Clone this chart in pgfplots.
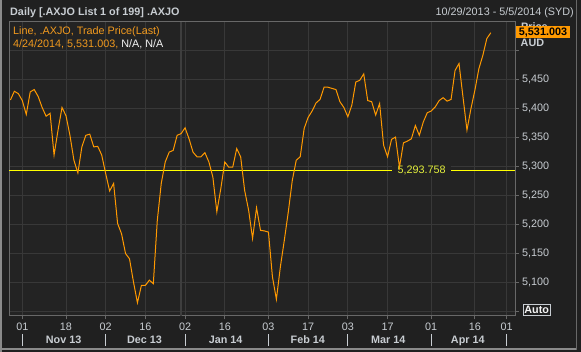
\documentclass[border=0pt]{standalone}
\usepackage{pgfplots}
\pgfplotsset{compat=1.18}
\usepackage{fontspec}
\setmainfont{Liberation Sans}
\definecolor{outerbg}{HTML}{202020}
\definecolor{plotbg}{HTML}{232323}
\definecolor{gridc}{HTML}{383838}
\definecolor{yearc}{HTML}{3E3E3E}
\definecolor{axisc}{HTML}{686868}
\definecolor{txt}{HTML}{C8CDD2}
\definecolor{orangeline}{HTML}{FF9900}
\definecolor{orangetxt}{HTML}{F29A1E}
\definecolor{yline}{HTML}{FFFF00}
\definecolor{ytxt}{HTML}{E4F03C}
\definecolor{framec}{HTML}{8A8A8A}
\newcommand{\fs}{\fontsize{10.8}{13}\selectfont}
\tikzset{
  msep/.style={txt, line width=0.9pt},
  mon/.style={anchor=base, font=\fs\bfseries, text=txt, inner sep=0},
}
\begin{document}
\begin{tikzpicture}[x=1pt,y=1pt]
\useasboundingbox (0,0) rectangle (581,352);
\fill[outerbg] (0,0) rectangle (581,352);
% outer frame
\fill[framec] (0,0) rectangle (2,352);
\fill[framec] (0,2) rectangle (577,3.6);
\fill[axisc] (576.2,2) rectangle (577.2,352);
% titles
\node[anchor=base west, font=\fs\bfseries, text=txt, inner sep=0] at (10,336.3) {Daily [.AXJO List 1 of 199] .AXJO};
\node[anchor=base east, font=\fs, text=txt, inner sep=0] at (574,336.3) {10/29/2013 - 5/5/2014 (SYD)};
\begin{axis}[
  at={(9pt,36pt)}, anchor=south west,
  scale only axis, width=506pt, height=294pt,
  xmin=-0.35, xmax=127.1, ymin=5042.2, ymax=5549.6,
  clip=false,
  axis background/.style={fill=plotbg},
  axis line style={draw=axisc, line width=1pt},
  grid=major, major grid style={draw=gridc, line width=0.9pt},
  xtick={3,14,24,34,44,54,65,75,85,95,106,117,125},
  xticklabels={01,18,02,16,02,16,03,17,03,17,01,16,01},
  ytick={5050,5100,5150,5200,5250,5300,5350,5400,5450,5500},
  yticklabels={{},{5,100},{5,150},{5,200},{5,250},{5,300},{5,350},{5,400},{5,450},{}},
  xtick pos=left, ytick pos=right, yticklabel pos=right,
  tick align=outside, major tick length=3.5pt,
  tick style={draw=axisc, line width=0.9pt},
  tick label style={font=\fs, text=txt},
  yticklabel style={anchor=west},
]
% year separator
\draw[yearc, line width=2pt] (axis cs:42.85,5042.2) -- (axis cs:42.85,5549.6);
% horizontal reference line
\addplot[yline, line width=1.3pt] coordinates {(-0.35,5293.758) (127.1,5293.758)};
\node[fill=plotbg, text=ytxt, font=\fs, inner xsep=5.5pt, inner ysep=1.5pt] at (axis cs:103.6,5293.758) {5,293.758};
% price series
\addplot[orangeline, line width=1pt] coordinates {
(0,5415) (1,5430) (2,5426) (3,5414) (4,5390) (5,5429) (6,5433) (7,5421) (8,5402) (9,5387)
(10,5392) (11,5320) (12,5363) (13,5402) (14,5388) (15,5354) (16,5311) (17,5289) (18,5334) (19,5354)
(20,5356) (21,5334) (22,5335) (23,5320) (24,5288) (25,5258) (26,5271) (27,5202) (28,5184) (29,5150)
(30,5141) (31,5101) (32,5065) (33,5095) (34,5095) (35,5104) (36,5098) (37,5207) (38,5271) (39,5308)
(40,5325) (41,5328) (42,5354) (43,5357) (44,5367) (45,5348) (46,5325) (47,5317) (48,5317) (49,5324)
(50,5308) (51,5282) (52,5222) (53,5262) (54,5308) (55,5299) (56,5299) (57,5331) (58,5317) (59,5259)
(60,5225) (61,5176) (62,5229) (63,5190) (64,5189) (65,5187) (66,5110) (67,5071) (68,5127) (69,5173)
(70,5222) (71,5276) (72,5311) (73,5317) (74,5366) (75,5385) (76,5396) (77,5410) (78,5416) (79,5437)
(80,5437) (81,5435) (82,5433) (83,5412) (84,5402) (85,5386) (86,5406) (87,5446) (88,5449) (89,5460)
(90,5414) (91,5412) (92,5389) (93,5409) (94,5337) (95,5317) (96,5347) (97,5351) (98,5299) (99,5341)
(100,5344) (101,5348) (102,5371) (103,5354) (104,5377) (105,5393) (106,5396) (107,5403) (108,5414) (109,5419)
(110,5413) (111,5416) (112,5466) (113,5478) (114,5420) (115,5363) (116,5400) (117,5432) (118,5469) (119,5492)
(120,5521) (121,5531.003)
};
% month separators and labels
\draw[msep] ([yshift=-18.3pt]axis cs:3,5042.2) -- ([yshift=-29.7pt]axis cs:3,5042.2);
\draw[msep] ([yshift=-18.3pt]axis cs:24,5042.2) -- ([yshift=-29.7pt]axis cs:24,5042.2);
\draw[msep] ([yshift=-18.3pt]axis cs:44,5042.2) -- ([yshift=-29.7pt]axis cs:44,5042.2);
\draw[msep] ([yshift=-18.3pt]axis cs:65,5042.2) -- ([yshift=-29.7pt]axis cs:65,5042.2);
\draw[msep] ([yshift=-18.3pt]axis cs:85,5042.2) -- ([yshift=-29.7pt]axis cs:85,5042.2);
\draw[msep] ([yshift=-18.3pt]axis cs:106,5042.2) -- ([yshift=-29.7pt]axis cs:106,5042.2);
\draw[msep] ([yshift=-18.3pt]axis cs:125,5042.2) -- ([yshift=-29.7pt]axis cs:125,5042.2);
\node[mon] at ([yshift=-27.9pt]axis cs:13.4,5042.2) {Nov 13};
\node[mon] at ([yshift=-27.9pt]axis cs:33.8,5042.2) {Dec 13};
\node[mon] at ([yshift=-27.9pt]axis cs:54.2,5042.2) {Jan 14};
\node[mon] at ([yshift=-27.9pt]axis cs:74.9,5042.2) {Feb 14};
\node[mon] at ([yshift=-27.9pt]axis cs:95.2,5042.2) {Mar 14};
\node[mon] at ([yshift=-27.9pt]axis cs:115.2,5042.2) {Apr 14};
\end{axis}
% legend text
\node[anchor=base west, font=\fs, text=orangetxt, inner sep=0] at (13,317.8) {Line, .AXJO, Trade Price(Last)};
\node[anchor=base west, font=\fs, text=orangetxt, inner sep=0] at (13,304.3) {4/24/2014, 5,531.003, \textcolor{white!92!gray}{N/A, N/A}};
% right-side labels
\node[anchor=base west, font=\fs\bfseries, text=txt, inner sep=0] at (521,321) {Price};
\fill[orangeline] (516,314) rectangle (570,326);
\node[anchor=base, font=\fs\bfseries, text=black, inner sep=0] at (543,316) {5,531.003};
\node[anchor=base west, font=\fs\bfseries, text=txt, inner sep=0] at (520.5,305.3) {AUD};
\node[draw=txt, line width=0.8pt, font=\fs\bfseries, text=white!92!gray, inner xsep=1.5pt, inner ysep=1pt, minimum height=11pt] at (536.7,42.3) {Auto};
\end{tikzpicture}
\end{document}
